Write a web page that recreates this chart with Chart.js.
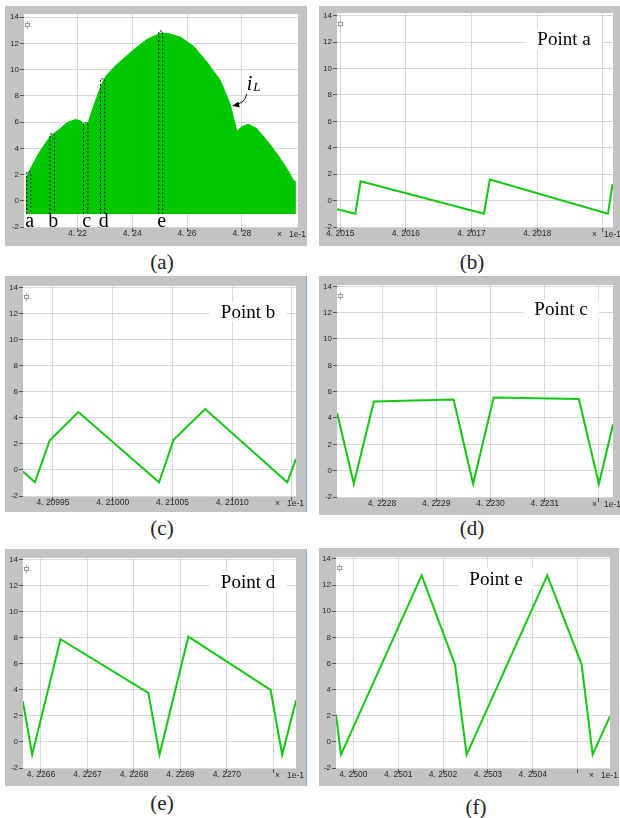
<!DOCTYPE html>
<html>
<head>
<meta charset="utf-8">
<title>iL ripple</title>
<script src="https://cdn.jsdelivr.net/npm/chart.js@4.4.1/dist/chart.umd.min.js"></script>
<style>
  html, body { margin: 0; padding: 0; background: #fff; }
  #page { position: relative; width: 620px; height: 818px; overflow: hidden; }
  .panel { position: absolute; background: #c3c3c3; overflow: hidden; }
  .panel canvas { display: block; }
  .edge { box-shadow: inset -1px 0 0 #7ea9d8; }
  .caption { position: absolute; width: 60px; text-align: center; line-height: 24px;
             font: 21px "Liberation Serif", "Times New Roman", serif; color: #222; }
</style>
</head>
<body>
<div id="page">
  <div class="panel" id="pa"><canvas id="ca"></canvas></div>
  <div class="panel" id="pb"><canvas id="cb"></canvas></div>
  <div class="panel edge" id="pc"><canvas id="cc"></canvas></div>
  <div class="panel" id="pd"><canvas id="cd"></canvas></div>
  <div class="panel edge" id="pe"><canvas id="ce"></canvas></div>
  <div class="panel" id="pf"><canvas id="cf"></canvas></div>

  <div class="caption" style="left:132px; top:250px">(a)</div>
  <div class="caption" style="left:442px; top:250px">(b)</div>
  <div class="caption" style="left:132px; top:516px">(c)</div>
  <div class="caption" style="left:442px; top:516px">(d)</div>
  <div class="caption" style="left:132px; top:791px">(e)</div>
  <div class="caption" style="left:446px; top:795px">(f)</div>
</div>

<script>
// current axis (A), same for every plot
const Y_TICKS = [-2, 0, 2, 4, 6, 8, 10, 12, 14];

// (a) upper envelope of iL, time in units of 1e-1 s
const A_T = [4.2013, 4.2013, 4.2015, 4.2058, 4.2100, 4.2137, 4.2161, 4.2192, 4.2210,
             4.2228, 4.2240, 4.2252, 4.2271, 4.2289, 4.2307, 4.2344, 4.2404, 4.2453,
             4.2502, 4.2526, 4.2575, 4.2623, 4.2672, 4.2721, 4.2757, 4.2782, 4.2800,
             4.2824, 4.2855, 4.2891, 4.2928, 4.2964, 4.2988, 4.2994, 4.2994];
const A_I = [-1, 1.8, 1.85, 3.6, 4.9, 5.5, 5.95, 6.2, 6.1,
             5.8, 6.0, 6.8, 7.9, 8.95, 9.6, 10.4, 11.5, 12.3,
             12.78, 12.78, 12.5, 11.8, 10.6, 9.2, 7.4, 5.3, 5.65,
             5.85, 5.5, 4.6, 3.6, 2.47, 1.57, 1.5, -1];
const A_TICKS = [4.22, 4.24, 4.26, 4.28];

// dashed windows a..e on the envelope
const MARK_NAMES = ['a', 'b', 'c', 'd', 'e'];
const MARK_T0 = [4.2015, 4.2100, 4.2222, 4.2284, 4.2497];
const MARK_T1 = [4.2030, 4.2116, 4.2238, 4.2300, 4.2511];
const MARK_TOP = [2.2, 5.1, 5.95, 9.3, 12.95];
const IL_LABEL = [4.2818, 8.45];
const IL_TIP = [4.2765, 7.25];

// (b) point a
const B_T = [4.201495, 4.201523, 4.201531, 4.201719, 4.201728, 4.201908, 4.201915];
const B_I = [-0.66, -1.0, 1.47, -1.0, 1.6, -1.0, 1.24];
const B_TICKS = [4.2015, 4.2016, 4.2017, 4.2018, 4.2019];

// (c) point b
const C_T = [4.2099249, 4.2099349, 4.2099472, 4.2099712, 4.2100388, 4.2100511,
             4.2100774, 4.2101461, 4.2101534];
const C_I = [-0.13, -0.95, 2.26, 4.44, -0.95, 2.33, 4.67, -0.95, 0.85];
const C_TICKS = [4.20995, 4.21000, 4.21005, 4.21010, 4.21015];

// (d) point c
const D_T = [4.222717, 4.222748, 4.222785, 4.222932, 4.222968, 4.223006,
             4.223163, 4.223200, 4.223226];
const D_I = [4.4, -1.0, 5.25, 5.4, -1.0, 5.55, 5.45, -1.0, 3.5];
const D_TICKS = [4.2228, 4.2229, 4.2230, 4.2231, 4.2232];

// (e) point d
const E_T = [4.226561, 4.226581, 4.226642, 4.226831, 4.226855, 4.226917,
             4.227094, 4.227119, 4.227149];
const E_I = [3.14, -0.98, 7.9, 3.78, -0.98, 8.1, 4.01, -0.98, 3.21];
const E_TICKS = [4.2266, 4.2267, 4.2268, 4.2269, 4.2270, 4.2271];

// (f) point e
const F_T = [4.2499614, 4.2499725, 4.2501523, 4.2502266, 4.2502526, 4.2504324,
             4.2505089, 4.2505334, 4.2505721];
const F_I = [2.09, -0.97, 12.74, 5.92, -0.97, 12.74, 5.92, -0.97, 1.97];
const F_TICKS = [4.2500, 4.2501, 4.2502, 4.2503, 4.2504, 4.2505];

const GREEN = '#12c812';
const FILL_GREEN = '#00c800';
const GRID = '#d8d8d8';
const LABEL_COLOR = '#262626';
const TICK_FONT = { family: '"Liberation Sans", Arial, sans-serif', size: 8.5 };
const SERIF = '"Liberation Serif", "Times New Roman", serif';

function pts(ts, vs) {
  return ts.map((t, i) => ({ x: t, y: vs[i] }));
}

function fmt(v, d) {
  return v.toFixed(d).replace('.', '. ');
}

// white plot area, cursor glyph, multiplier and the "Point x" tag
const framePlugin = {
  id: 'frame',
  beforeDraw(chart) {
    const { ctx, chartArea: a } = chart;
    ctx.save();
    ctx.fillStyle = '#fff';
    ctx.fillRect(a.left, a.top, a.right - a.left, a.bottom - a.top);
    ctx.restore();
  },
  beforeDatasetsDraw(chart, args, opts) {
    if (!opts.tag) return;
    const { ctx, chartArea: a } = chart;
    const x = a.right + opts.tag.dx, base = a.top + opts.tag.dy;
    ctx.save();
    ctx.font = '19px ' + SERIF;
    const w = ctx.measureText(opts.tag.text).width;
    ctx.fillStyle = '#fff';
    ctx.fillRect(x - w / 2 - 11, base - 16, w + 22, 20);
    ctx.fillStyle = '#000';
    ctx.textAlign = 'center';
    ctx.fillText(opts.tag.text, x, base);
    ctx.restore();
  },
  afterDraw(chart) {
    const { ctx, chartArea: a } = chart;
    ctx.save();
    // little cursor marker in the top left corner
    ctx.strokeStyle = '#9a9a9a';
    ctx.lineWidth = 1;
    const cx = a.left + 3.5;
    ctx.strokeRect(cx - 2, a.top + 9.5, 4, 3);
    ctx.beginPath();
    ctx.moveTo(cx, a.top + 7); ctx.lineTo(cx, a.top + 9.5);
    ctx.moveTo(cx, a.top + 12.5); ctx.lineTo(cx, a.top + 15);
    ctx.stroke();
    // x multiplier
    ctx.fillStyle = LABEL_COLOR;
    ctx.font = '8.5px "Liberation Sans", Arial, sans-serif';
    ctx.textBaseline = 'middle';
    ctx.fillText('\u00d7', a.right - 21, a.bottom + 8);
    ctx.fillText('1e-1', a.right - 9, a.bottom + 8);
    ctx.restore();
  }
};

// letters under the dashed windows and the iL pointer
const markPlugin = {
  id: 'marks',
  afterDatasetsDraw(chart) {
    const { ctx, chartArea: a, scales: { x, y } } = chart;
    ctx.save();
    ctx.fillStyle = '#000';
    ctx.font = '20px ' + SERIF;
    ctx.textAlign = 'center';
    ctx.textBaseline = 'alphabetic';
    MARK_NAMES.forEach((n, i) => {
      const px = x.getPixelForValue((MARK_T0[i] + MARK_T1[i]) / 2) + 1;
      ctx.fillText(n, px, a.bottom);
    });

    const lx = x.getPixelForValue(IL_LABEL[0]);
    const ly = y.getPixelForValue(IL_LABEL[1]);
    ctx.textAlign = 'left';
    ctx.font = 'italic 20px ' + SERIF;
    ctx.fillText('i', lx, ly);
    const iw = ctx.measureText('i').width;
    ctx.font = 'italic 13px ' + SERIF;
    ctx.fillText('L', lx + iw + 1, ly + 1);

    const tx = x.getPixelForValue(IL_TIP[0]);
    const ty = y.getPixelForValue(IL_TIP[1]);
    const sx = lx, sy = ly + 4;
    const qx = sx - 2, qy = ty - 2;
    ctx.strokeStyle = '#000';
    ctx.lineWidth = 1;
    ctx.beginPath();
    ctx.moveTo(sx, sy);
    ctx.quadraticCurveTo(qx, qy, tx + 3, ty - 1.5);
    ctx.stroke();
    const ang = Math.atan2(ty - qy, tx - qx);
    ctx.beginPath();
    ctx.moveTo(tx, ty);
    ctx.lineTo(tx - 7 * Math.cos(ang) + 3 * Math.sin(ang), ty - 7 * Math.sin(ang) - 3 * Math.cos(ang));
    ctx.lineTo(tx - 7 * Math.cos(ang) - 3 * Math.sin(ang), ty - 7 * Math.sin(ang) + 3 * Math.cos(ang));
    ctx.closePath();
    ctx.fill();
    ctx.restore();
  }
};

function lineSet(ts, vs) {
  return {
    data: pts(ts, vs),
    borderColor: GREEN,
    borderWidth: 2,
    pointRadius: 0,
    tension: 0,
    fill: false
  };
}

function markerPoints() {
  const out = [];
  MARK_NAMES.forEach((n, i) => {
    out.push({ x: MARK_T0[i], y: -1 }, { x: MARK_T0[i], y: MARK_TOP[i] },
             { x: MARK_T1[i], y: MARK_TOP[i] }, { x: MARK_T1[i], y: -1 },
             { x: MARK_T1[i], y: null });
  });
  return out;
}

function makePlot(cfg) {
  const canvas = document.getElementById(cfg.canvas);
  const box = canvas.parentElement;
  Object.assign(box.style, {
    left: cfg.left + 'px', top: cfg.top + 'px', width: cfg.w + 'px', height: cfg.h + 'px'
  });
  canvas.width = cfg.w;
  canvas.height = cfg.h;
  const [il, it, ir, ib] = cfg.inset;
  return new Chart(canvas, {
    type: 'line',
    data: { datasets: cfg.datasets },
    options: {
      responsive: false,
      animation: false,
      events: [],
      layout: { padding: { left: 0, top: it, right: ir, bottom: 0 } },
      plugins: {
        legend: { display: false },
        tooltip: { enabled: false },
        frame: { tag: cfg.tag || null }
      },
      scales: {
        x: {
          type: 'linear',
          min: cfg.xmin,
          max: cfg.xmax,
          afterBuildTicks: s => { s.ticks = cfg.ticks.map(v => ({ value: v })); },
          afterFit: s => { s.height = ib; },
          border: { display: false },
          grid: { color: GRID, lineWidth: 1, tickColor: '#555', tickWidth: 1, tickLength: 5 },
          ticks: {
            font: TICK_FONT,
            color: LABEL_COLOR,
            padding: -3,
            maxRotation: 0,
            autoSkip: false,
            callback: (v, i) => (cfg.blankLast && i === cfg.ticks.length - 1) ? '' : fmt(v, cfg.dec)
          }
        },
        y: {
          type: 'linear',
          min: -2,
          max: cfg.ymax,
          afterBuildTicks: s => { s.ticks = Y_TICKS.map(v => ({ value: v })); },
          afterFit: s => { s.width = il; },
          border: { display: false },
          grid: { color: GRID, lineWidth: 1, tickColor: '#555', tickWidth: 1, tickLength: 4 },
          ticks: {
            font: { family: TICK_FONT.family, size: 8 },
            color: LABEL_COLOR,
            padding: 1,
            autoSkip: false
          }
        }
      }
    },
    plugins: [framePlugin].concat(cfg.extra || [])
  });
}

makePlot({
  canvas: 'ca', left: 5, top: 6, w: 302, h: 240, inset: [19, 8, 9, 19],
  xmin: 4.2005, xmax: 4.3005, ymax: 14.25, ticks: A_TICKS, dec: 2, blankLast: false,
  datasets: [
    {
      data: markerPoints(),
      borderColor: '#111',
      borderWidth: 1,
      borderDash: [2, 2],
      pointRadius: 0,
      tension: 0,
      spanGaps: false,
      fill: false,
      order: 0
    },
    {
      data: pts(A_T, A_I),
      borderColor: FILL_GREEN,
      backgroundColor: FILL_GREEN,
      borderWidth: 1,
      pointRadius: 0,
      tension: 0,
      fill: { value: -1 },
      order: 1
    }
  ],
  extra: [markPlugin]
});

makePlot({
  canvas: 'cb', left: 319, top: 6, w: 301, h: 240, inset: [18, 7, 7, 19],
  xmin: 4.201495, xmax: 4.2019157, ymax: 14.2, ticks: B_TICKS, dec: 4, blankLast: true,
  datasets: [lineSet(B_T, B_I)],
  tag: { text: 'Point a', dx: -49, dy: 32 }
});

makePlot({
  canvas: 'cc', left: 5, top: 276, w: 302, h: 236, inset: [18, 10, 11, 16],
  xmin: 4.2099249, xmax: 4.2101534, ymax: 14.1, ticks: C_TICKS, dec: 5, blankLast: true,
  datasets: [lineSet(C_T, C_I)],
  tag: { text: 'Point b', dx: -48, dy: 31.5 }
});

makePlot({
  canvas: 'cd', left: 319, top: 276, w: 301, h: 239, inset: [18, 9, 7, 18],
  xmin: 4.222717, xmax: 4.223226, ymax: 14.1, ticks: D_TICKS, dec: 4, blankLast: true,
  datasets: [lineSet(D_T, D_I)],
  tag: { text: 'Point c', dx: -52, dy: 30 }
});

makePlot({
  canvas: 'ce', left: 5, top: 549, w: 302, h: 237, inset: [18, 9, 11, 18],
  xmin: 4.2265613, xmax: 4.2271487, ymax: 14.15, ticks: E_TICKS, dec: 4, blankLast: true,
  datasets: [lineSet(E_T, E_I)],
  tag: { text: 'Point d', dx: -48, dy: 29.5 }
});

makePlot({
  canvas: 'cf', left: 319, top: 548, w: 300, h: 238, inset: [17, 9, 9, 18],
  xmin: 4.2499614, xmax: 4.2505721, ymax: 14.15, ticks: F_TICKS, dec: 4, blankLast: true,
  datasets: [lineSet(F_T, F_I)],
  tag: { text: 'Point e', dx: -114, dy: 27.5 }
});
</script>
</body>
</html>
